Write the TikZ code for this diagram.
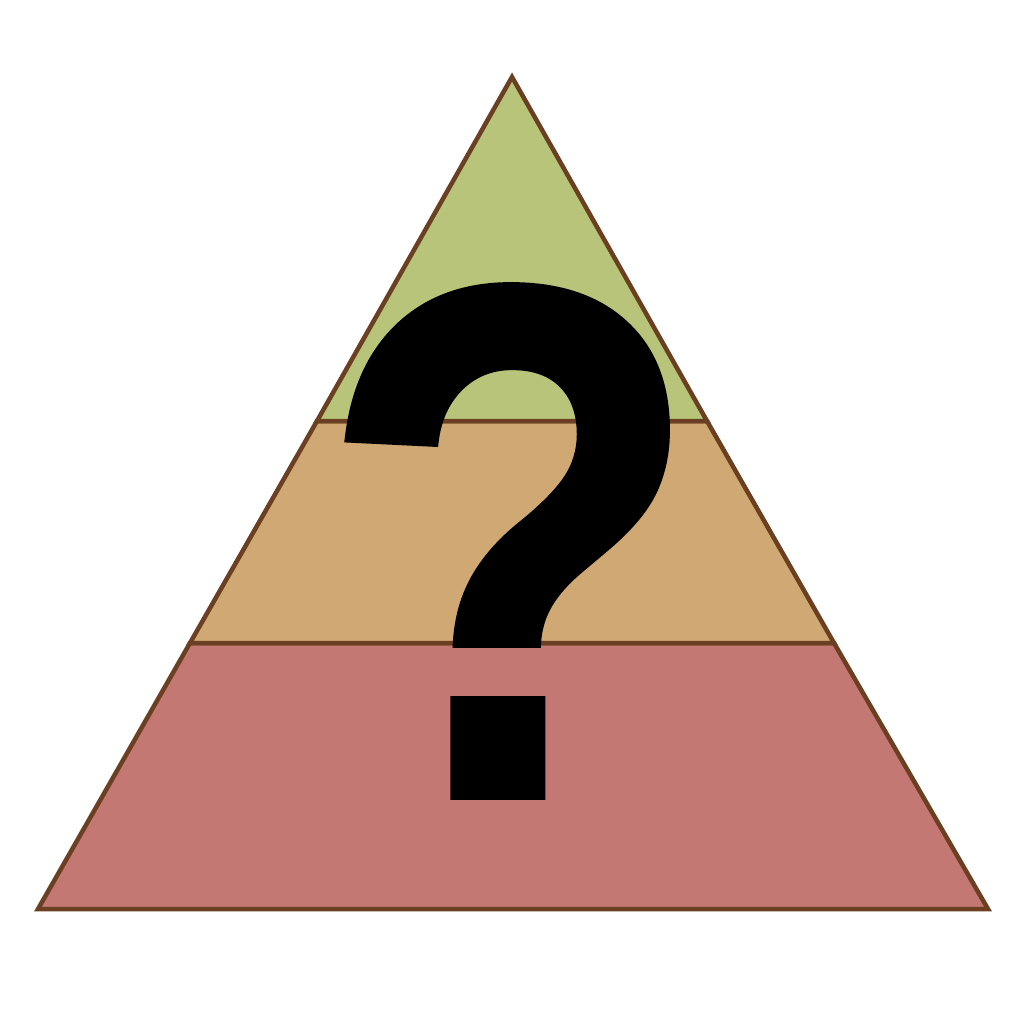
\documentclass[tikz,border=0pt]{standalone}
\usepackage{fontspec}
\newfontfamily\markfont{Liberation Sans}[UprightFont=* Bold, FakeBold=1]
\usetikzlibrary{positioning,calc}
\definecolor{topgreen}{HTML}{B8C47A}
\definecolor{midtan}{HTML}{CFA873}
\definecolor{lowred}{HTML}{C47873}
\definecolor{edgebrown}{HTML}{6B3F22}

\begin{document}
\begin{tikzpicture}[
				x=0.1mm, y=-0.1mm,
				layer/.style={
					draw=edgebrown, line width=0.45mm, line join=miter
				}
				]
				
				% frame
				\useasboundingbox (0,0) rectangle (1024,1024);
				
				% corners
				\coordinate (apex) at (512,77);
				\coordinate (bl) at (38,909);
				\coordinate (br) at (988,909);
				\coordinate (ul) at (317,421);
				\coordinate (ur) at (707,421);
				\coordinate (ml) at (190,643);
				\coordinate (mr) at (834,643);
				
				% bottom layer
				\filldraw[layer, fill=lowred] (ml) -- (mr) -- (br) -- (bl) -- cycle;
				
				% middle layer
				\filldraw[layer, fill=midtan] (ul) -- (ur) -- (mr) -- (ml) -- cycle;
				
				% top layer
				\filldraw[layer, fill=topgreen] (apex) -- (ur) -- (ul) -- cycle;
				
				% question mark
				\node[inner sep=0, xscale=0.86, font=\markfont\fontsize{208}{208}\selectfont] (query) at (511,541) {?};
			\end{tikzpicture}
\end{document}
